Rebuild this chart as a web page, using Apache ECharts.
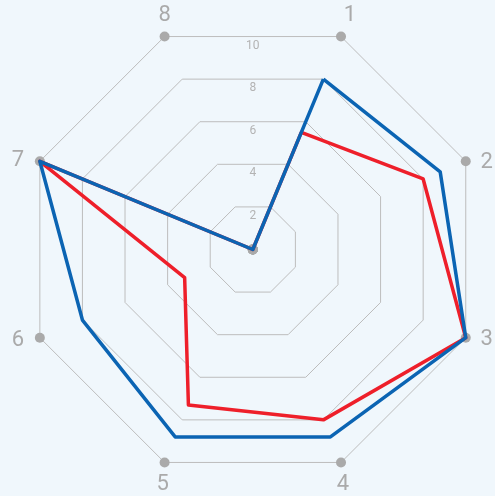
<!DOCTYPE html>
<html>
<head>
<meta charset="utf-8">
<script src="https://cdn.jsdelivr.net/npm/echarts@6/dist/echarts.min.js"></script>
<style>
html,body{margin:0;padding:0;background:#f0f7fc;}
#c{width:495px;height:496px;}
</style>
</head>
<body>
<div id="c"></div>
<script>
// Indicators in clockwise order starting at upper-right
const indicators = ['1','2','3','4','5','6','7','8'];
const maxValue = 10;
const tickLabels = [2, 4, 6, 8, 10];
const blueValues = [8.0, 8.8, 10, 8.8, 8.8, 8.0, 10, 0];
const redValues  = [5.5, 8.0, 10, 8.0, 7.3, 3.2, 10, 0];

// ECharts radar goes counter-clockwise; reorder to keep clockwise visual order
const order = [0, 7, 6, 5, 4, 3, 2, 1];
const reorder = arr => order.map(i => arr[i]);

// label offsets (style only): [dx, dy] from the vertex
const nameOffsets = {
  '1': [9, -21], '2': [21, 1], '3': [21, 2], '4': [2, 22],
  '5': [-2, 22], '6': [-22, 3], '7': [-22, -1], '8': [0, -21]
};
const rich = {};
Object.keys(nameOffsets).forEach(k => {
  const [dx, dy] = nameOffsets[k];
  rich['n' + k] = {
    color: '#aaaaaa', fontSize: 22, fontFamily: 'Roboto',
    padding: [Math.max(0, 2 * dy), Math.max(0, -2 * dx), Math.max(0, -2 * dy), Math.max(0, 2 * dx)]
  };
});

const cx = 252.8, cy = 249.5, R = 230.5;
const chart = echarts.init(document.getElementById('c'));
chart.setOption({
  backgroundColor: '#f0f7fc',
  animation: false,
  polar: { center: [cx, cy], radius: R * Math.cos(Math.PI / 8) },
  angleAxis: { startAngle: 90, show: false, min: 0, max: 360 },
  radiusAxis: {
    min: 0, max: maxValue, interval: 2,
    axisLine: { show: false }, axisTick: { show: false }, splitLine: { show: false },
    axisLabel: {
      showMinLabel: false, color: '#b3b3b3', fontSize: 12, fontFamily: 'Roboto',
      margin: 0, align: 'center', verticalAlign: 'top', padding: [3, 0, 0, 0],
      formatter: v => tickLabels.indexOf(v) >= 0 ? String(v) : ''
    }
  },
  radar: {
    center: [cx, cy], radius: R, startAngle: 67.5, splitNumber: 5, shape: 'polygon',
    indicator: reorder(indicators).map(n => ({ name: n, max: maxValue, min: 0 })),
    axisName: {
      color: '#aaaaaa', fontSize: 22, fontFamily: 'Roboto',
      align: 'center', verticalAlign: 'middle',
      formatter: n => '{n' + n + '|' + n + '}', rich: rich
    },
    nameGap: 0,
    axisLine: { show: false },
    splitLine: { lineStyle: { color: '#bdbdbd', width: 1 } },
    splitArea: { show: false }
  },
  series: [
    {
      type: 'radar', z: 1, silent: true,
      symbol: 'circle', symbolSize: 10,
      itemStyle: { color: '#aaaaaa' },
      lineStyle: { width: 0, opacity: 0 },
      data: [
        { value: reorder(indicators.map(() => maxValue)) },
        { value: reorder(indicators.map(() => 0)) }
      ]
    },
    {
      type: 'radar', z: 2, symbol: 'none',
      lineStyle: { color: '#ee1f2a', width: 3.5 },
      data: [{ value: reorder(redValues), name: 'red' }]
    },
    {
      type: 'radar', z: 3, symbol: 'none',
      lineStyle: { color: '#0b64b3', width: 3.5 },
      data: [{ value: reorder(blueValues), name: 'blue' }]
    }
  ]
});
</script>
</body>
</html>
